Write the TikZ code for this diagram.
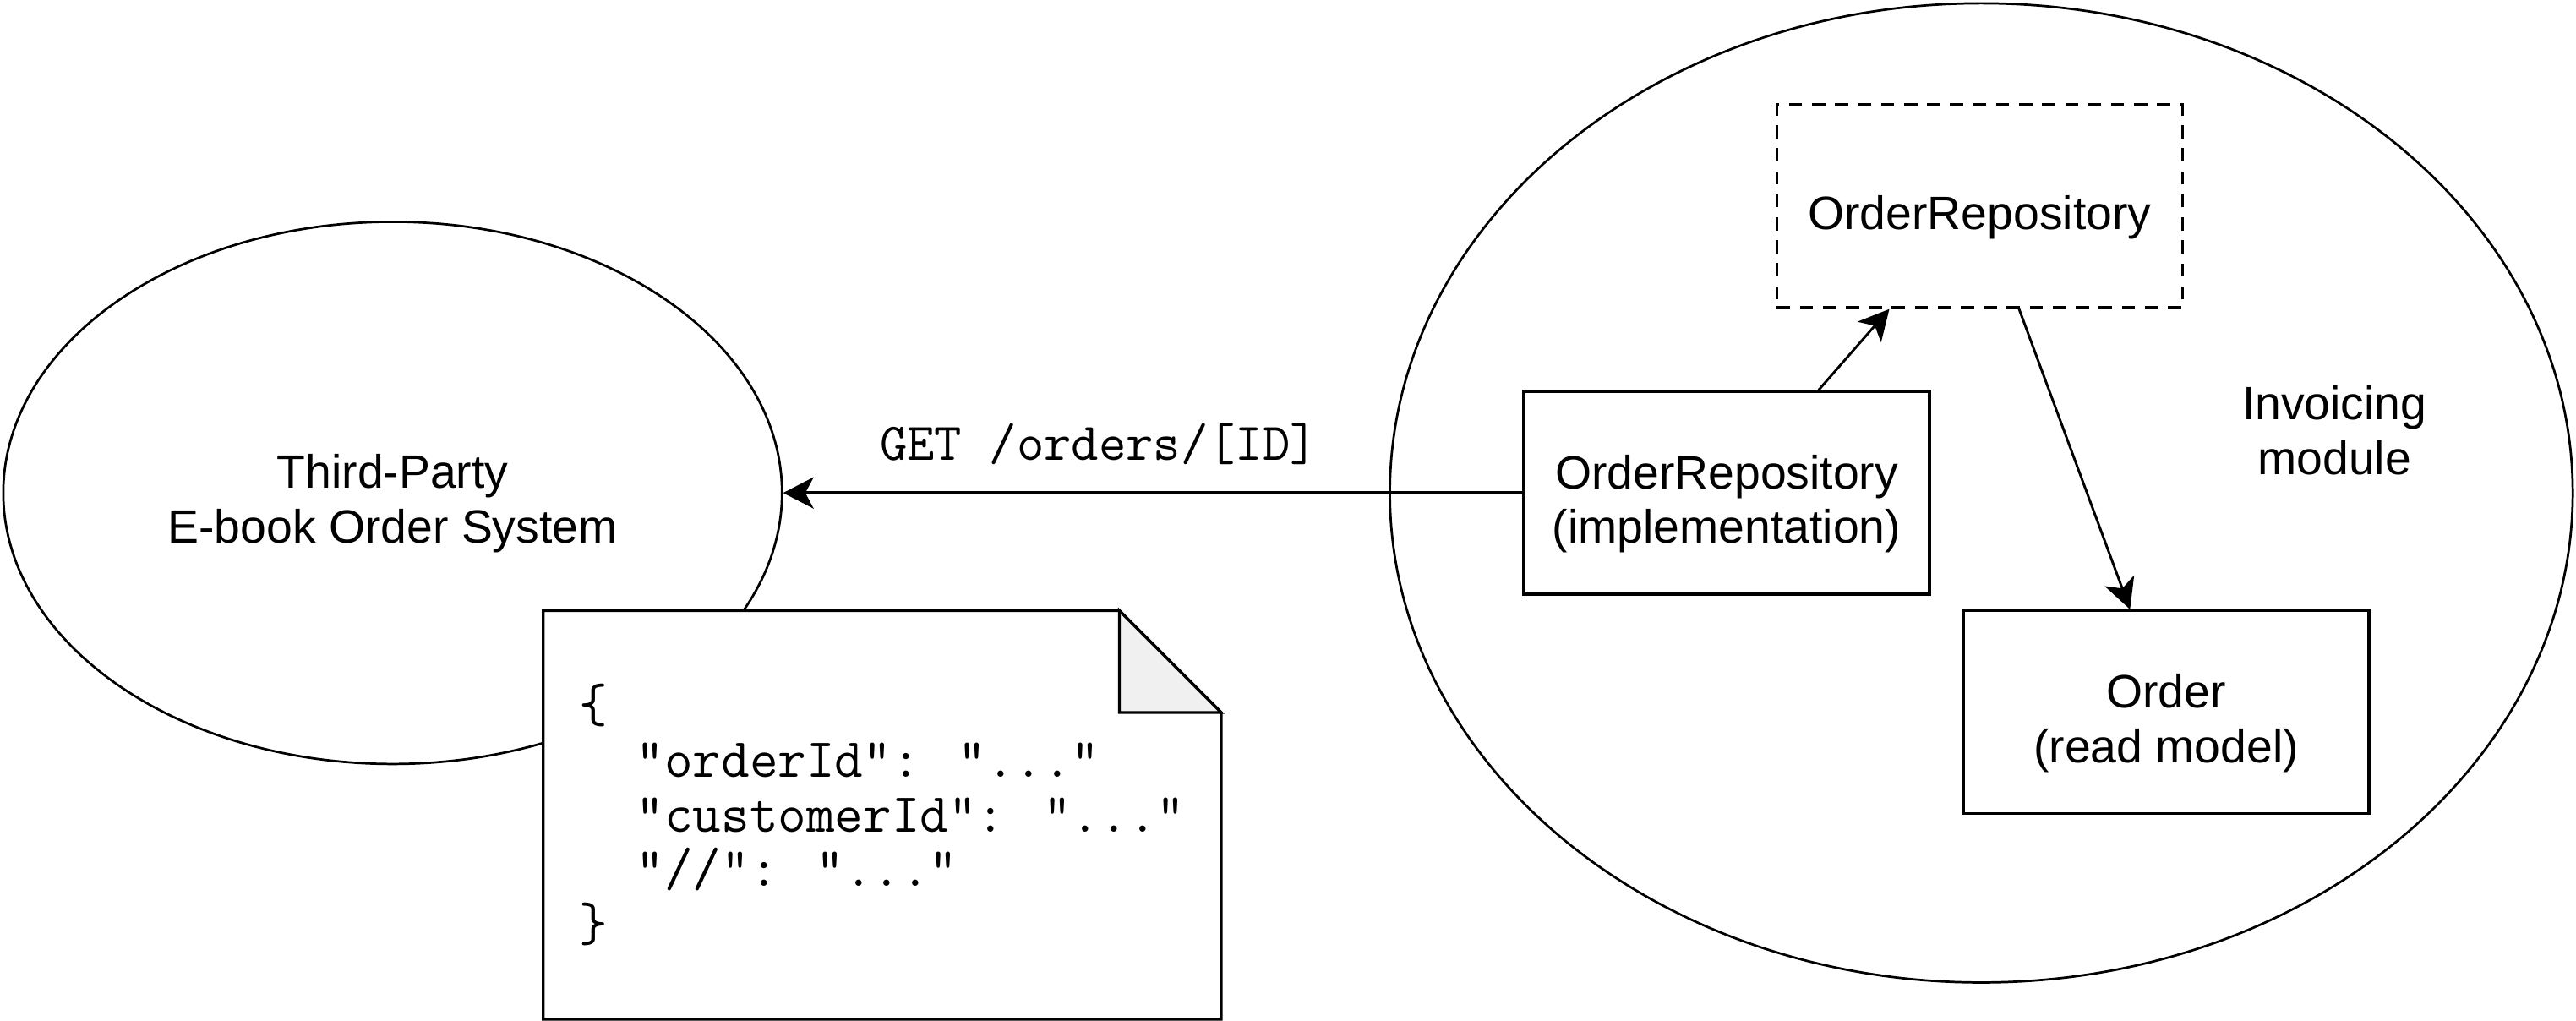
\documentclass[tikz,border=0pt]{standalone}
\usepackage{fontspec}
\setmainfont{Liberation Sans}
\usetikzlibrary{arrows.meta,shapes.geometric,positioning}

% pushes the text of a box a little down, as in the drawing
\newcommand{\dropline}{\rule{0pt}{19.4pt}}

\tikzset{
    boundary/.style={draw, ellipse, line width=0.8pt, fill=white, inner sep=0pt},
    classbox/.style={draw, line width=1pt, fill=white, minimum width=4.94cm,
        minimum height=2.47cm, align=center, font=\fontsize{16.2}{18.8}\selectfont},
    link/.style={-{Stealth[length=0.37cm,width=0.38cm,inset=0.1cm]}, line width=0.85pt},
}

\begin{document}
\begin{tikzpicture}

\useasboundingbox (0,0) rectangle (31.36,-12.42);

% the two systems
\node[
    boundary,
    minimum width=9.48cm,
    minimum height=6.6cm
] (thirdparty) at (4.78,-6.0) {};
\node[font=\fontsize{16.2}{18.8}\selectfont, align=center] (tplabel) at (4.78,-6.13)
{Third-Party\\E-book Order System};

\node[
    boundary,
    minimum width=14.4cm,
    minimum height=11.92cm
] (invoicing) at (24.12,-6.0) {};

\node[font=\fontsize{16.2}{18.8}\selectfont, align=center] (modlabel) at (28.42,-5.24)
{Invoicing\\module};

% json payload
\node[
    fill=white,
    minimum width=8.24cm,
    minimum height=4.96cm,
    align=left,
    font=\ttfamily\fontsize{19.1}{18.9}\selectfont
] (payload) at (10.74,-9.92)
{\{\\
\phantom{xx}"orderId": "..."\\
\phantom{xx}"customerId": "..."\\
\phantom{xx}"//": "..."\\
\}};
\draw[line width=1pt] (payload.north west) -- ([xshift=-1.24cm]payload.north east)
    -- ([yshift=-1.24cm]payload.north east) -- (payload.south east)
    -- (payload.south west) -- cycle;
\draw[line width=1pt, fill=black!6] ([xshift=-1.24cm]payload.north east)
    -- ([xshift=-1.24cm,yshift=-1.24cm]payload.north east)
    -- ([yshift=-1.24cm]payload.north east) -- cycle;

% classes of the invoicing module
\node[classbox, dash pattern=on 0.16cm off 0.12cm] (repo) at (24.1,-2.51)
{\dropline OrderRepository};

\node[classbox] (impl) at (21.02,-6.0)
{\dropline OrderRepository\\(implementation)};

\node[classbox] (order) at (26.37,-8.67)
{\dropline Order\\(read model)};

% connectors
\draw[link, line width=1pt] (impl.west) -- (thirdparty.east)
    node[pos=0.573, yshift=0.6cm, font=\ttfamily\fontsize{18.4}{18}\selectfont] (request)
    {GET /orders/[ID]};
\draw[link] ([xshift=1.12cm]impl.north) -- ([xshift=-1.1cm]repo.south);
\draw[link] ([xshift=0.48cm]repo.south) -- ([xshift=-0.44cm]order.north);

\end{tikzpicture}
\end{document}
